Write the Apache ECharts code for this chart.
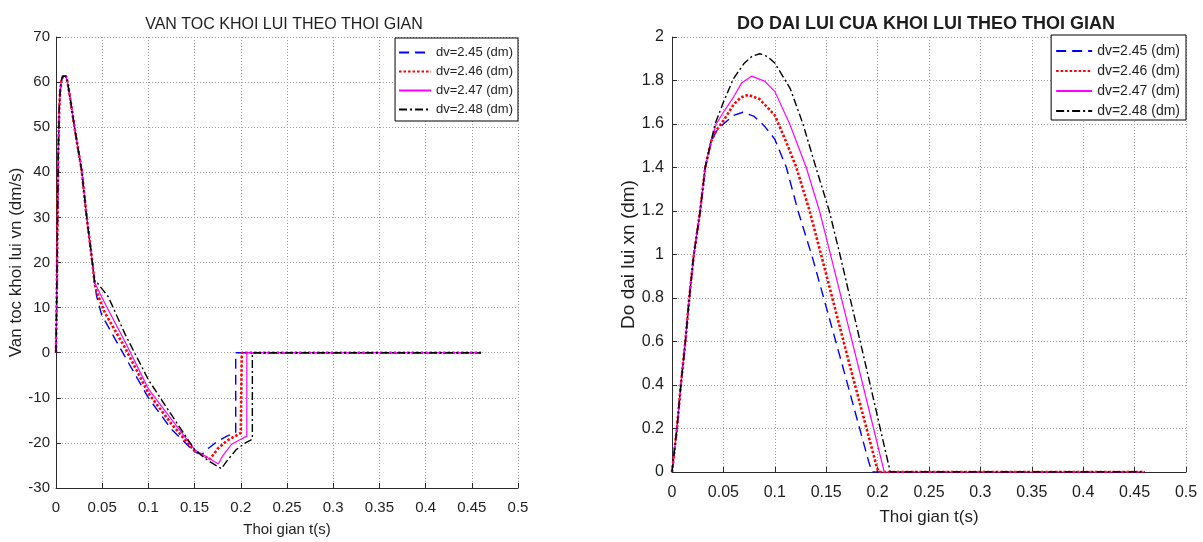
<!DOCTYPE html>
<html>
<head>
<meta charset="utf-8">
<script src="https://cdn.jsdelivr.net/npm/echarts@6/dist/echarts.min.js"></script>
<style>
html,body{margin:0;padding:0;background:#fff;}
#chart{width:1203px;height:542px;}
</style>
</head>
<body>
<div id="chart"></div>
<script>
// ---- Data ----
const seriesNames = ['dv=2.45 (dm)', 'dv=2.46 (dm)', 'dv=2.47 (dm)', 'dv=2.48 (dm)'];
const xTicks = [0, 0.05, 0.1, 0.15, 0.2, 0.25, 0.3, 0.35, 0.4, 0.45, 0.5];

// Left chart: velocity vn (dm/s) vs time t (s)
const velRiseShared = [[0,0],[0.0005,8],[0.001,16],[0.0015,27],[0.0025,45],[0.0035,54],[0.0045,58],[0.006,60.5],[0.0075,61.3],[0.0092,61.7],[0.0108,61.3],[0.0125,60],[0.0152,56.6],[0.02,50],[0.0278,40.4],[0.0332,30.1],[0.0386,21.3]];
const velBlue = [[0.042,15],[0.044,12.5],[0.0494,8.4],[0.075,-1],[0.1,-10],[0.125,-17],[0.15,-22],[0.158,-22.5],[0.165,-21.2],[0.175,-19.6],[0.185,-18.5],[0.1945,-17.7],[0.1945,0],[0.46,0]];
const velRed = [[0.042,15.2],[0.044,13.5],[0.053,8.8],[0.075,1],[0.1,-9],[0.125,-15.8],[0.15,-21.8],[0.1667,-23.6],[0.175,-21.3],[0.185,-19.5],[0.2,-17.8],[0.201,-17.7],[0.201,0],[0.46,0]];
const velMagenta = [[0.042,15.4],[0.044,14.6],[0.0548,10.2],[0.075,2.3],[0.1,-8],[0.125,-14.8],[0.15,-21.5],[0.1757,-24.7],[0.18,-23],[0.19,-20.3],[0.2,-19.2],[0.2065,-18.5],[0.2065,0],[0.46,0]];
const velBlack = [[0.042,15.5],[0.045,15.4],[0.0566,12.4],[0.075,4],[0.1,-6],[0.125,-13.8],[0.15,-21.5],[0.165,-24],[0.179,-25.7],[0.185,-24],[0.195,-21.5],[0.205,-20],[0.2125,-19.2],[0.2125,0],[0.46,0]];

// Right chart: displacement xn (dm) vs time t (s)
const dispRiseShared = [[0,0],[0.0048,0.2],[0.0086,0.4],[0.013,0.6],[0.0168,0.8],[0.021,0.99],[0.0274,1.2],[0.0323,1.4],[0.038,1.52]];
const dispBlue = [[0.043,1.565],[0.05,1.6],[0.06,1.64],[0.069,1.654],[0.08,1.635],[0.09,1.59],[0.1,1.53],[0.1113,1.4],[0.1226,1.2],[0.137,0.98],[0.1652,0.5],[0.1912,0.05],[0.1945,0],[0.46,0]];
const dispRed = [[0.043,1.57],[0.05,1.615],[0.06,1.69],[0.067,1.722],[0.0742,1.734],[0.085,1.715],[0.1,1.64],[0.1113,1.515],[0.121,1.4],[0.1339,1.2],[0.1461,0.98],[0.1724,0.5],[0.1994,0.02],[0.201,0],[0.46,0]];
const dispMagenta = [[0.043,1.6],[0.05,1.654],[0.06,1.725],[0.068,1.79],[0.0774,1.82],[0.09,1.797],[0.1,1.75],[0.1145,1.6],[0.1306,1.4],[0.1435,1.2],[0.1558,0.97],[0.1805,0.5],[0.2065,0],[0.46,0]];
const dispBlack = [[0.0419,1.6],[0.05,1.7],[0.0597,1.808],[0.07,1.878],[0.078,1.912],[0.0855,1.923],[0.093,1.91],[0.1,1.88],[0.115,1.763],[0.1274,1.6],[0.14,1.4],[0.153,1.2],[0.1645,0.977],[0.188,0.5],[0.2123,0],[0.46,0]];

// ---- Styling ----
const FONT = "'Liberation Sans', Arial, sans-serif";
const TXT = '#1e1e1e';
const styles = [
  {color:'#0000ff', width:1.4, type:[10,6]},
  {color:'#ff0000', width:2.6, type:[2.5,2]},
  {color:'#ff00ff', width:1.2, type:'solid'},
  {color:'#000000', width:1.4, type:[8,3,2,3]}
];

const velData = [velRiseShared.concat(velBlue), velRiseShared.concat(velRed), velRiseShared.concat(velMagenta), velRiseShared.concat(velBlack)];
const dispData = [dispRiseShared.concat(dispBlue), dispRiseShared.concat(dispRed), dispRiseShared.concat(dispMagenta), dispRiseShared.concat(dispBlack)];

function mkSeries(dataSets, idx) {
  return dataSets.map((d, i) => ({
    name: seriesNames[i],
    type: 'line',
    xAxisIndex: idx, yAxisIndex: idx,
    data: d,
    symbol: 'none',
    showSymbol: false,
    animation: false,
    lineStyle: {color: styles[i].color, width: styles[i].width, type: styles[i].type, cap: 'butt'},
    itemStyle: {color: styles[i].color},
    z: 2 + i
  }));
}

function axisCommon(fontSize, margin) {
  return {
    axisLine: {show: true, onZero: false, lineStyle: {color: '#2a2a2a', width: 1}},
    axisTick: {show: true, inside: true, length: 5, lineStyle: {color: '#2a2a2a'}},
    axisLabel: {color: TXT, fontSize: fontSize, fontFamily: FONT, margin: margin},
    splitLine: {show: true, lineStyle: {color: '#a0a0a0', width: 1, type: [1, 2]}},
    nameTextStyle: {color: TXT, fontFamily: FONT}
  };
}

const chart = echarts.init(document.getElementById('chart'), null, {renderer: 'canvas'});
const option = {
  backgroundColor: '#ffffff',
  animation: false,
  textStyle: {fontFamily: FONT},
  title: [
    {text: 'VAN TOC KHOI LUI THEO THOI GIAN', left: 279, top: 12, textAlign: 'center',
     textStyle: {fontSize: 16, fontWeight: 'normal', color: TXT, fontFamily: FONT}},
    {text: 'DO DAI LUI CUA KHOI LUI THEO THOI GIAN', left: 921, top: 10, textAlign: 'center',
     textStyle: {fontSize: 18, fontWeight: 'bold', color: TXT, fontFamily: FONT}}
  ],
  grid: [
    {left: 56, top: 37, width: 462, height: 453, containLabel: false},
    {left: 672, top: 37, width: 514, height: 435, containLabel: false}
  ],
  xAxis: [
    Object.assign(axisCommon(15, 12), {gridIndex: 0, type: 'value', min: xTicks[0], max: xTicks[xTicks.length-1], interval: 0.05,
      name: 'Thoi gian t(s)', nameLocation: 'middle', nameGap: 34,
      nameTextStyle: {color: TXT, fontFamily: FONT, fontSize: 15}}),
    Object.assign(axisCommon(16, 13), {gridIndex: 1, type: 'value', min: xTicks[0], max: xTicks[xTicks.length-1], interval: 0.05,
      name: 'Thoi gian t(s)', nameLocation: 'middle', nameGap: 37,
      nameTextStyle: {color: TXT, fontFamily: FONT, fontSize: 17}})
  ],
  yAxis: [
    Object.assign(axisCommon(15, 6), {gridIndex: 0, type: 'value', min: -30, max: 70, interval: 10,
      name: 'Van toc khoi lui vn (dm/s)', nameLocation: 'middle', nameGap: 30,
      nameTextStyle: {color: TXT, fontFamily: FONT, fontSize: 17}}),
    Object.assign(axisCommon(16, 8), {gridIndex: 1, type: 'value', min: 0, max: 2, interval: 0.2,
      name: 'Do dai lui xn (dm)', nameLocation: 'middle', nameGap: 34,
      nameTextStyle: {color: TXT, fontFamily: FONT, fontSize: 19}})
  ],
  legend: [
    {data: seriesNames, orient: 'vertical', right: 685, top: 38, itemWidth: 32, itemHeight: 14, itemGap: 6,
     padding: [8, 5, 5, 3], borderColor: '#000', borderWidth: 1, backgroundColor: '#fff', selectedMode: false,
     itemStyle: {opacity: 0}, lineStyle: {opacity: 1},
     textStyle: {fontSize: 13, color: TXT, fontFamily: FONT}, z: 10},
    {data: seriesNames, orient: 'vertical', right: 17, top: 35, itemWidth: 36, itemHeight: 15, itemGap: 6,
     padding: [9, 6, 2, 4], borderColor: '#000', borderWidth: 1, backgroundColor: '#fff', selectedMode: false,
     itemStyle: {opacity: 0}, lineStyle: {opacity: 1},
     textStyle: {fontSize: 14, color: TXT, fontFamily: FONT}, z: 10}
  ],
  series: mkSeries(velData, 0).concat(mkSeries(dispData, 1))
};
chart.setOption(option);
</script>
</body>
</html>
